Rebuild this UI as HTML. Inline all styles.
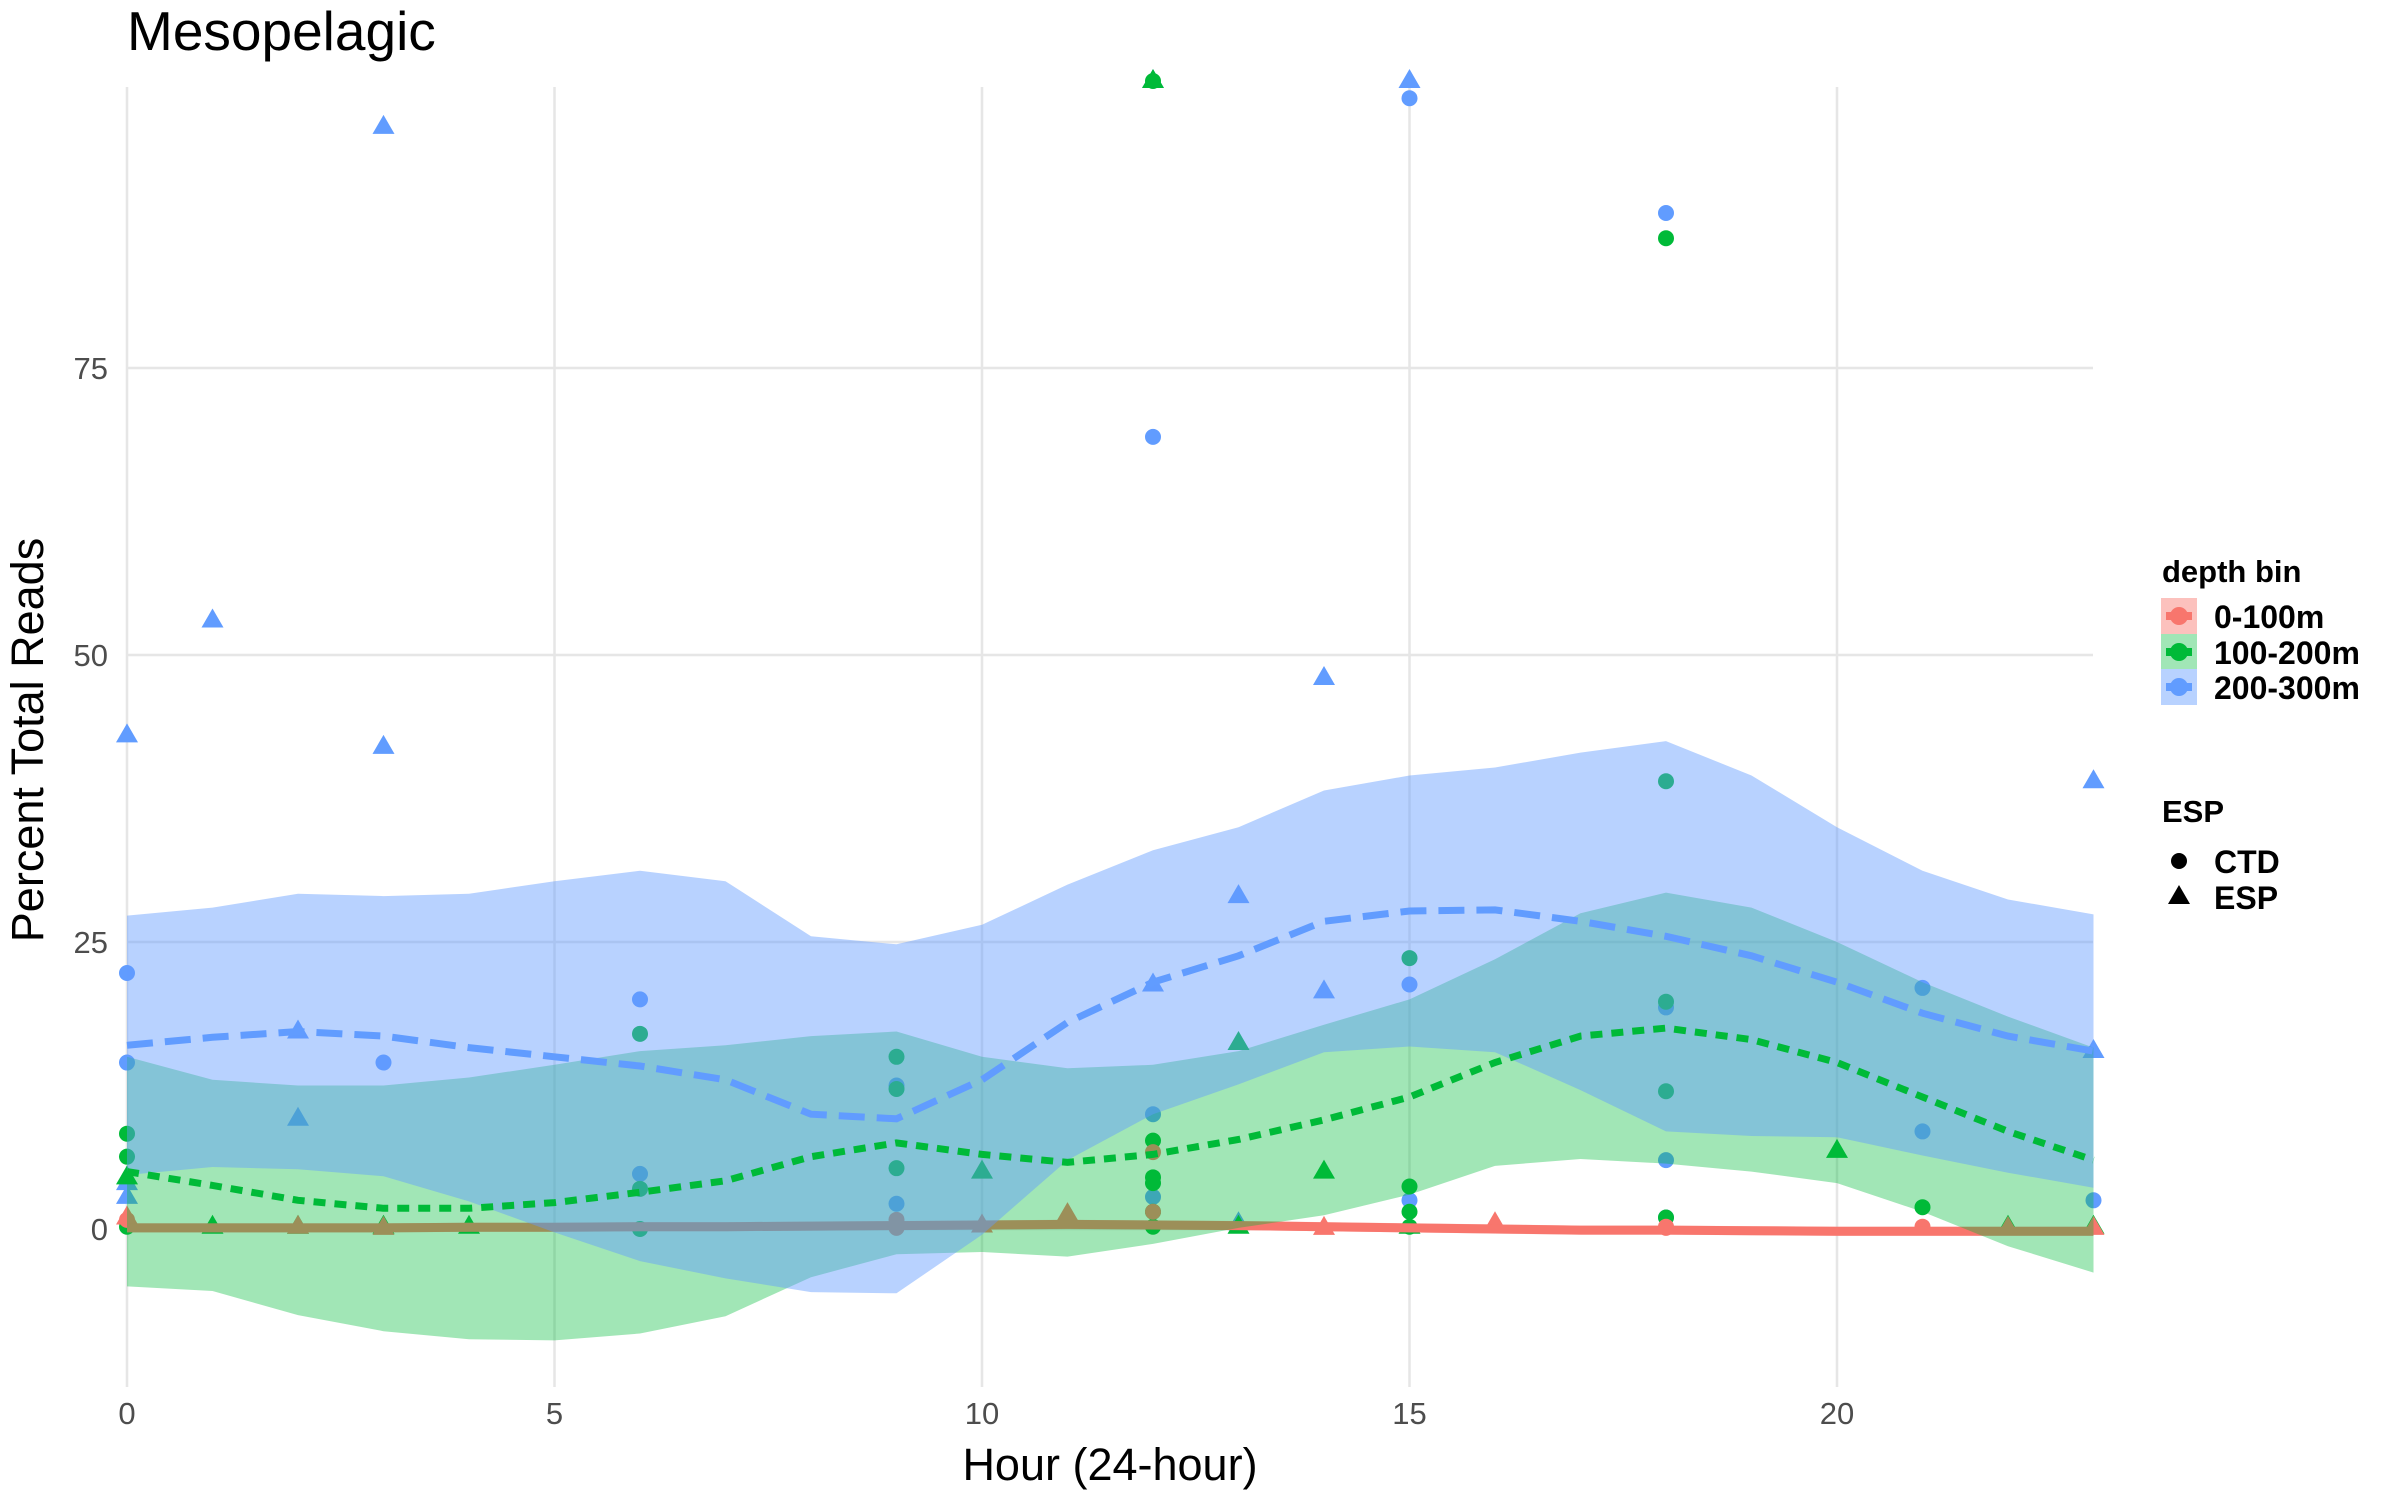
<!DOCTYPE html>
<html><head><meta charset="utf-8"><style>
body{margin:0;background:#fff}
svg text{font-family:"Liberation Sans",sans-serif}
</style></head><body>
<svg id="c" width="2400" height="1500" xmlns="http://www.w3.org/2000/svg">
<text x="127" y="50" font-size="55" fill="#000">Mesopelagic</text>
<g id="grid"></g><g id="pts"></g><g id="lines"></g><g id="axes"></g>
<text x="1110" y="1480" font-size="45" text-anchor="middle" fill="#000">Hour (24-hour)</text>
<text transform="translate(43,740) rotate(-90)" font-size="45" text-anchor="middle" fill="#000">Percent Total Reads</text>
<g>
<text x="2162" y="582" font-size="31" font-weight="bold">depth bin</text>
<g><rect x="2161" y="598" width="36" height="36" fill="#F8766D" fill-opacity="0.45"/><line x1="2166" y1="616" x2="2192" y2="616" stroke="#F8766D" stroke-width="8"/><circle cx="2179" cy="616" r="9" fill="#F8766D"/><text x="2214" y="628" font-size="32" font-weight="bold">0-100m</text></g>
<g><rect x="2161" y="634" width="36" height="35" fill="#00BA38" fill-opacity="0.37"/><line x1="2166" y1="652" x2="2192" y2="652" stroke="#00BA38" stroke-width="8"/><circle cx="2179" cy="652" r="9" fill="#00BA38"/><text x="2214" y="664" font-size="32" font-weight="bold">100-200m</text></g>
<g><rect x="2161" y="669" width="36" height="36" fill="#619CFF" fill-opacity="0.45"/><line x1="2166" y1="687" x2="2192" y2="687" stroke="#619CFF" stroke-width="8"/><circle cx="2179" cy="687" r="9" fill="#619CFF"/><text x="2214" y="699" font-size="32" font-weight="bold">200-300m</text></g>
</g>
<g>
<text x="2162" y="822" font-size="31" font-weight="bold">ESP</text>
<g><circle cx="2179" cy="861" r="8" fill="#000"/><text x="2214" y="873" font-size="32" font-weight="bold">CTD</text></g>
<g><polygon points="2179,885 2190,904 2168,904" fill="#000"/><text x="2214" y="909" font-size="32" font-weight="bold">ESP</text></g>
</g>
</svg>
<script>
const hours=[0,1,2,3,4,5,6,7,8,9,10,11,12,13,14,15,16,17,18,19,20,21,22,23];
const blueMean=[16,16.7,17.2,16.8,15.8,15,14.2,13,10,9.6,13,18,21.5,23.8,26.8,27.7,27.8,26.8,25.5,23.8,21.5,18.8,16.8,15.5];
const blueUpper=[27.3,28,29.2,29,29.2,30.3,31.2,30.3,25.5,24.8,26.5,30,33,35,38.2,39.5,40.2,41.5,42.5,39.5,35,31.2,28.7,27.4];
const greenMean=[5,3.8,2.5,1.8,1.8,2.3,3.2,4.2,6.3,7.5,6.5,5.8,6.5,7.8,9.5,11.5,14.5,16.8,17.5,16.5,14.5,11.5,8.5,6];
const greenUpper=[15,13,12.5,12.5,13.2,14.3,15.5,16,16.8,17.2,15,14,14.3,15.5,17.8,20,23.5,27.5,29.3,28,25,21.5,18.5,15.8];
const redMean=[0.1,0.1,0.1,0.1,0.15,0.15,0.2,0.2,0.25,0.3,0.35,0.4,0.35,0.3,0.2,0.1,0,-0.1,-0.1,-0.15,-0.2,-0.2,-0.2,-0.2];
const redHalf=[0.4,0.4,0.4,0.4,0.4,0.4,0.4,0.4,0.4,0.4,0.4,0.4,0.4,0.4,0.4,0.4,0.4,0.4,0.4,0.4,0.4,0.4,0.4,0.4];
const ptX=[0,1,2,2,3,3,12,12,13,13,14,14,15,23,23,0,0, 0,0,3,6,6,9,9,12,12,12,15,15,15,18,18,18,18,21,21,23, 0,0,6,6,6,9,9,9,12,12,12,12,12,12,15,15,15,15,18,18,18,18,18,21,0, 0,1,2,3,4,10,11,12,13,13,14,15,20,22,23, 0,9,12,12,18,21,9,18, 0,11,14,16,22,23,3,2,10];
const ptY=[43,53,17.2,9.6,96,42,100,21.3,29,0.5,48,20.7,100,39,15.5,4,2.8, 22.3,14.5,14.5,20,4.8,12.5,2.2,69,10,2.8,98.5,21.3,2.5,88.5,19.3,6,1,21,8.5,2.5, 8.3,6.3,17,3.5,0,15,12.2,5.3,100,7.7,4.5,4,1.5,0.2,23.6,3.7,1.5,0.2,86.3,39,19.8,12,1,1.9,0.2, 4.5,0.2,0.2,0.2,0.2,5,0.8,100,16.2,0.2,5,0.2,6.8,0.2,0.2, 0.8,0.8,6.7,1.5,0.1,0.2,0.1,0.2, 1,1.3,0.1,0.5,0.1,0.1,0.1,0.2,0.3];
const ptGroup=["b","b","b","b","b","b","b","b","b","b","b","b","b","b","b","b","b", "b","b","b","b","b","b","b","b","b","b","b","b","b","b","b","b","b","b","b","b", "g","g","g","g","g","g","g","g","g","g","g","g","g","g","g","g","g","g","g","g","g","g","g","g","g", "g","g","g","g","g","g","g","g","g","g","g","g","g","g","g", "r","r","r","r","r","r","r","r", "r","r","r","r","r","r","r","r","r"];
const ptShape=["t","t","t","t","t","t","t","t","t","t","t","t","t","t","t","t","t", "c","c","c","c","c","c","c","c","c","c","c","c","c","c","c","c","c","c","c","c", "c","c","c","c","c","c","c","c","c","c","c","c","c","c","c","c","c","c","c","c","c","c","c","c","c", "t","t","t","t","t","t","t","t","t","t","t","t","t","t","t", "c","c","c","c","c","c","c","c", "t","t","t","t","t","t","t","t","t"];
const xTicks=[0,5,10,15,20];
const yTicks=[0,25,50,75];
const NS="http://www.w3.org/2000/svg";
const X=v=>127+v*85.5, Y=v=>1229-v*11.48;
const L=127,R=2093,T=87,B=1387;
const col={r:"#F8766D",g:"#00BA38",b:"#619CFF"};
function mk(p,t,a){const e=document.createElementNS(NS,t);for(const k in a)e.setAttribute(k,a[k]);p.appendChild(e);return e;}
const grid=document.getElementById('grid');
const axes=document.getElementById('axes');
yTicks.forEach(v=>{const e=mk(grid,'line',{x1:L,x2:R,y1:Y(v),y2:Y(v),stroke:'#e6e6e6','stroke-width':2.5});


const t=mk(axes,'text',{x:108,y:Y(v)+11,'font-size':31,'text-anchor':'end',fill:'#4d4d4d'});t.textContent=v;

});
xTicks.forEach(v=>{const e=mk(grid,'line',{x1:X(v),x2:X(v),y1:T,y2:B,stroke:'#e6e6e6','stroke-width':2.5});


const t=mk(axes,'text',{x:X(v),y:1424,'font-size':31,'text-anchor':'middle',fill:'#4d4d4d'});t.textContent=v;

});
const pts=document.getElementById('pts');
ptX.forEach((x,i)=>{const c=col[ptGroup[i]];let e;
if(ptShape[i]==='c'){e=mk(pts,'circle',{cx:X(x),cy:Y(ptY[i]),r:8,fill:c});}
else{const cx=X(x),cy=Y(ptY[i]);e=mk(pts,'polygon',{points:`${cx},${cy-12} ${cx+11},${cy+7} ${cx-11},${cy+7}`,fill:c});}

});
const lines=document.getElementById('lines');
function path(arr){return hours.map((h,i)=>(i?'L':'M')+X(h).toFixed(1)+','+Y(arr[i]).toFixed(1)).join(' ');}
function ribbon(mean,up){const lo=mean.map((m,i)=>2*m-up[i]);
let d=path(up);for(let i=hours.length-1;i>=0;i--)d+=' L'+X(hours[i]).toFixed(1)+','+Y(lo[i]).toFixed(1);return d+' Z';}
let e=mk(lines,'path',{d:ribbon(redMean,redMean.map((m,i)=>m+redHalf[i])),fill:col.r,'fill-opacity':0.4});


e=mk(lines,'path',{d:path(redMean),fill:'none',stroke:col.r,'stroke-width':9});


e=mk(lines,'path',{d:ribbon(greenMean,greenUpper),fill:col.g,'fill-opacity':0.37});


e=mk(lines,'path',{d:ribbon(blueMean,blueUpper),fill:col.b,'fill-opacity':0.45});


e=mk(lines,'path',{d:path(greenMean),fill:'none',stroke:col.g,'stroke-width':7,'stroke-dasharray':'12 9'});


e=mk(lines,'path',{d:path(blueMean),fill:'none',stroke:col.b,'stroke-width':7,'stroke-dasharray':'26 12'});


</script>
</body></html>
